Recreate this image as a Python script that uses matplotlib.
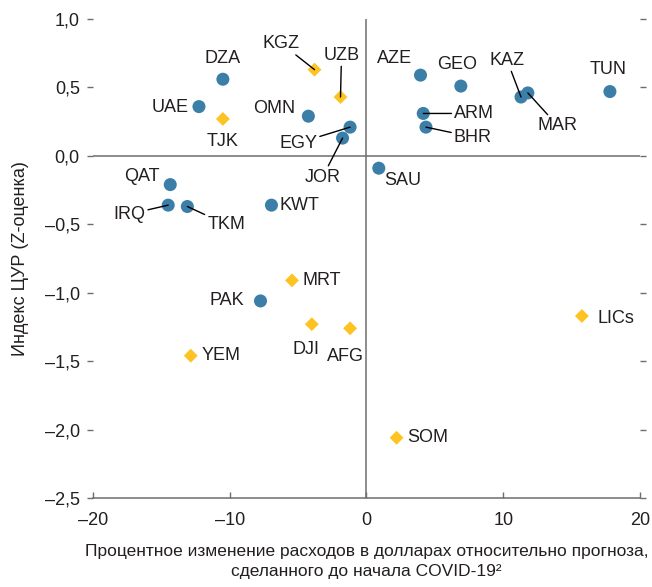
import matplotlib
matplotlib.use("Agg")
import matplotlib.pyplot as plt
from matplotlib.ticker import FuncFormatter, MultipleLocator

plt.rcParams['font.family'] = ['Liberation Sans', 'DejaVu Sans']

# circles (blue)
blue_names = ["DZA", "UAE", "OMN", "EGY", "JOR", "QAT", "IRQ", "TKM", "KWT",
              "AZE", "GEO", "KAZ", "MAR", "TUN", "ARM", "BHR", "SAU", "PAK"]
blue_x = [-10.5, -12.25, -4.25, -1.2, -1.75, -14.35, -14.5, -13.1, -6.95,
          3.95, 6.9, 11.3, 11.8, 17.8, 4.15, 4.35, 0.9, -7.75]
blue_y = [0.56, 0.36, 0.29, 0.21, 0.13, -0.21, -0.36, -0.37, -0.36,
          0.59, 0.51, 0.43, 0.46, 0.47, 0.31, 0.21, -0.09, -1.06]

# diamonds (yellow)
yel_names = ["KGZ", "UZB", "TJK", "MRT", "DJI", "YEM", "AFG", "LICs", "SOM"]
yel_x = [-3.8, -1.9, -10.5, -5.45, -4.0, -12.85, -1.2, 15.75, 2.2]
yel_y = [0.63, 0.43, 0.27, -0.91, -1.23, -1.46, -1.26, -1.17, -2.06]

# label offsets in pixels (dx, dy, leader line)
label_pos = {
    "DZA": (0, 21, False), "UAE": (-29, -1, False), "TJK": (0, -23, False),
    "KGZ": (-33, 26, True), "UZB": (1, 42, True), "OMN": (-34, 8, False),
    "EGY": (-52, -16, True), "JOR": (-20, -39, True), "QAT": (-28, 8, False),
    "IRQ": (-39, -9, True), "TKM": (39, -18, True), "KWT": (28, 0, False),
    "AZE": (-26, 17, False), "GEO": (-4, 22, False), "KAZ": (-14, 37, True),
    "MAR": (30, -33, True), "TUN": (-2, 22, False), "ARM": (51, 0, True),
    "BHR": (47, -10, True), "SAU": (24, -12, False), "PAK": (-34, 0, False),
    "MRT": (30, 0, False), "DJI": (-6, -25, False), "YEM": (30, 0, False),
    "AFG": (-5, -28, False), "LICs": (34, -3, False), "SOM": (31, 0, False),
}

BLUE = "#3b7ea8"
YELLOW = "#fdc322"
GRAY = "#6d6d6d"
TXT = "#231f20"
FS = 13

fig = plt.figure(figsize=(6.52, 5.87), dpi=100)
ax = fig.add_axes([0.1426, 0.1516, 0.839, 0.8160])

ax.axhline(0, color=GRAY, lw=1.1, zorder=1)
ax.axvline(0, color=GRAY, lw=1.1, zorder=1)

ax.scatter(blue_x, blue_y, s=88, marker="o", color=BLUE, edgecolors="none", zorder=3)
ax.scatter(yel_x, yel_y, s=50, marker="D", color=YELLOW, edgecolors="none", zorder=3)

for names, xs, ys in [(blue_names, blue_x, blue_y), (yel_names, yel_x, yel_y)]:
    for n, x, y in zip(names, xs, ys):
        dx, dy, line = label_pos[n]
        arrow = dict(arrowstyle="-", color="black", lw=1.0, shrinkA=0, shrinkB=0) if line else None
        ax.annotate(n, (x, y), xytext=(dx, dy), textcoords="offset pixels",
                    ha="center", va="center", fontsize=FS, color=TXT,
                    arrowprops=arrow, zorder=4)

ax.set_xlim(-20, 20)
ax.set_ylim(-2.5, 1.0)
ax.xaxis.set_major_locator(MultipleLocator(10))
ax.yaxis.set_major_locator(MultipleLocator(0.5))

def fmt_x(v, pos):
    s = "%d" % round(v)
    return s.replace("-", "\u2013")

def fmt_y(v, pos):
    s = "%.1f" % v
    if s == "-0.0":
        s = "0.0"
    return s.replace(".", ",").replace("-", "\u2013")

ax.xaxis.set_major_formatter(FuncFormatter(fmt_x))
ax.yaxis.set_major_formatter(FuncFormatter(fmt_y))

for side in ["top", "right", "left"]:
    ax.spines[side].set_visible(False)
ax.spines["bottom"].set_color(GRAY)
ax.spines["bottom"].set_linewidth(1.1)

ax.tick_params(axis="y", left=True, right=True, direction="out", length=4.5,
               width=1.0, color=GRAY, labelsize=FS, labelcolor=TXT, pad=5)
ax.tick_params(axis="x", direction="in", length=4.5, width=1.0, color=GRAY,
               labelsize=FS, labelcolor=TXT, pad=10)

ax.set_ylabel("Индекс ЦУР (Z-оценка)", fontsize=FS, color=TXT, labelpad=11)
ax.set_xlabel("Процентное изменение расходов в долларах относительно прогноза,\n"
              "сделанного до начала COVID-19\u00b2", fontsize=12.5, color=TXT,
              labelpad=11, linespacing=1.4)

fig.savefig("out.png", dpi=100)
